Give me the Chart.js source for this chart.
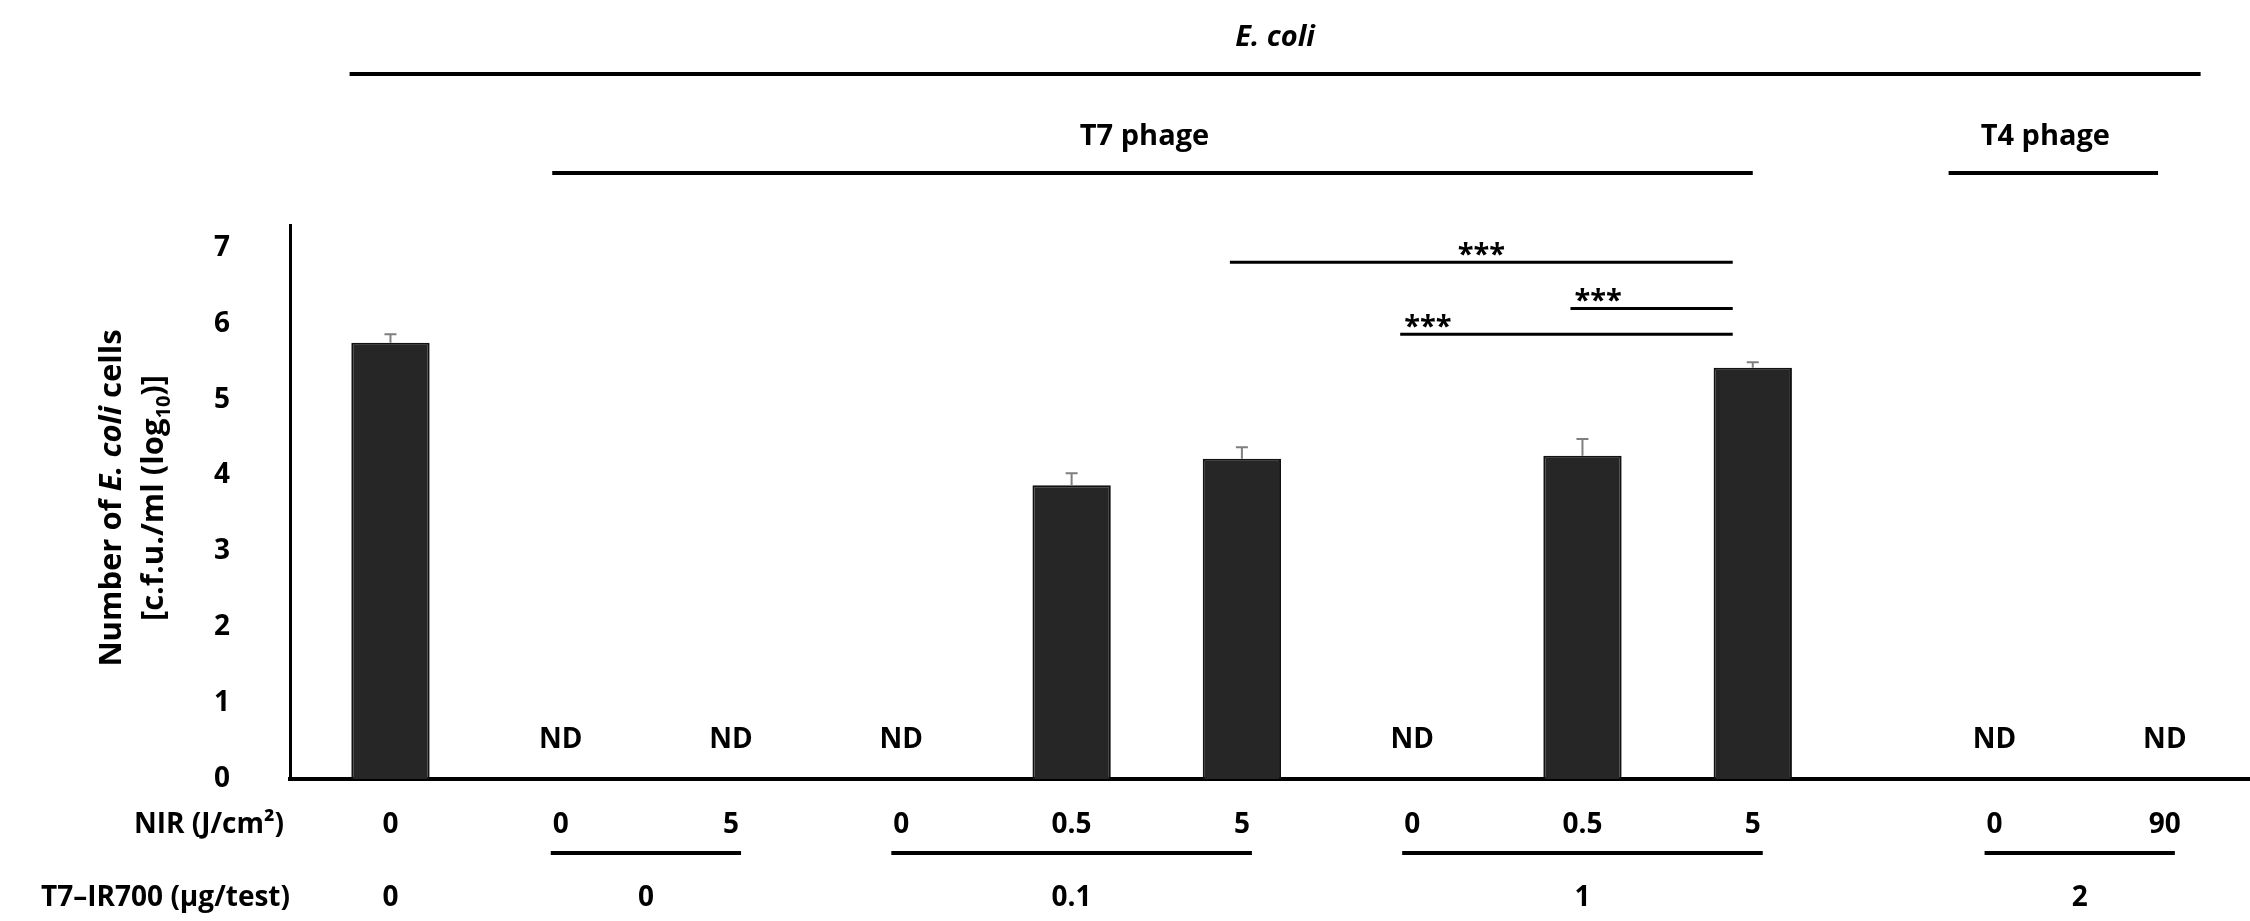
<!DOCTYPE html>
<html>
<head>
<meta charset="utf-8">
<title>E. coli counts after T7-IR700 / NIR treatment</title>
<script src="https://cdn.jsdelivr.net/npm/chart.js@4.4.0/dist/chart.umd.min.js"></script>
<style>
  body { margin: 0; background: #fff; }
  canvas { display: block; }
</style>
</head>
<body>
<canvas id="myChart" width="2250" height="921"></canvas>
<script>
// values (log10 c.f.u./ml), null = not detected
const nirLabels = ['0', '0', '5', '0', '0.5', '5', '0', '0.5', '5', '0', '90'];
const cellCounts = [5.75, null, null, null, 3.87, 4.22, null, 4.26, 5.42, null, null];
const errorBars = [0.11, 0, 0, 0, 0.16, 0.15, 0, 0.22, 0.07, 0, 0];
const yTicks = [0, 1, 2, 3, 4, 5, 6, 7];

// T7-IR700 dose row, each dose covers a run of categories
const doseGroups = [
  { label: '0', first: 0, last: 0 },
  { label: '0', first: 1, last: 2 },
  { label: '0.1', first: 3, last: 5 },
  { label: '1', first: 6, last: 8 },
  { label: '2', first: 9, last: 10 }
];

// headers over the plot, spans given in category units
const headers = [
  { text: 'E. coli', italic: true, from: -0.24, to: 10.63, row: 0 },
  { text: 'T7 phage', from: 0.95, to: 8.0, row: 1 },
  { text: 'T4 phage', from: 9.15, to: 10.38, row: 1 }
];

// *** brackets: compared categories and the y level they sit at
const sigPairs = [
  { from: 5, to: 8, level: 6.81, align: 'center' },
  { from: 7, to: 8, level: 6.2, align: 'left' },
  { from: 6, to: 8, level: 5.86, align: 'left' }
];

const family = '"Open Sans", "DejaVu Sans", sans-serif';
const t4Shift = 0.42; // T4 columns sit a little apart from the T7 ones

function font(size, style) {
  return (style || 'bold') + ' ' + size + 'px ' + family;
}

// draws text made of styled parts, centred on cx, baseline at by
function drawRich(ctx, parts, cx, by, size) {
  let total = 0;
  parts.forEach(p => {
    ctx.font = font(p.sub ? Math.round(size * 0.65) : size, p.style);
    total += ctx.measureText(p.t).width;
  });
  let px = cx - total / 2;
  ctx.textAlign = 'left';
  parts.forEach(p => {
    ctx.font = font(p.sub ? Math.round(size * 0.65) : size, p.style);
    ctx.fillText(p.t, px, by + (p.sub ? size * 0.22 : 0));
    px += ctx.measureText(p.t).width;
  });
}

function hline(ctx, x1, x2, y, w) {
  ctx.lineWidth = w;
  ctx.beginPath();
  ctx.moveTo(x1, y);
  ctx.lineTo(x2, y);
  ctx.stroke();
}

const figureExtras = {
  id: 'figureExtras',
  afterDatasetsDraw(chart) {
    const ctx = chart.ctx;
    const xs = chart.scales.x;
    const ys = chart.scales.y;
    const catX = i => xs.getPixelForValue(i + (i >= 9 ? t4Shift : 0));
    const zero = ys.getPixelForValue(0);
    const area = chart.chartArea;

    ctx.save();

    // error bars, upper half only
    ctx.strokeStyle = '#7f7f7f';
    ctx.lineWidth = 2;
    cellCounts.forEach((v, i) => {
      if (v === null || !errorBars[i]) return;
      const cx = xs.getPixelForValue(i);
      const top = ys.getPixelForValue(v + errorBars[i]);
      ctx.beginPath();
      ctx.moveTo(cx, ys.getPixelForValue(v));
      ctx.lineTo(cx, top);
      ctx.moveTo(cx - 6, top);
      ctx.lineTo(cx + 6, top);
      ctx.stroke();
    });

    ctx.fillStyle = '#000';
    ctx.strokeStyle = '#000';
    ctx.textBaseline = 'alphabetic';

    // ND marks
    ctx.font = font(28);
    ctx.textAlign = 'center';
    cellCounts.forEach((v, i) => {
      if (v === null) ctx.fillText('ND', catX(i), zero - 31);
    });

    // significance brackets
    sigPairs.forEach(s => {
      const y = ys.getPixelForValue(s.level);
      const x1 = catX(s.from) - 12;
      const x2 = catX(s.to) - 20;
      hline(ctx, x1, x2, y, 3);
      ctx.font = font(29);
      ctx.textAlign = s.align;
      ctx.fillText('***', s.align === 'center' ? (x1 + x2) / 2 : x1 + 4, y + 2);
    });

    // headers
    headers.forEach(h => {
      const x1 = xs.getPixelForValue(h.from);
      const x2 = xs.getPixelForValue(h.to);
      const lineY = h.row === 0 ? 74 : 173;
      hline(ctx, x1, x2, lineY, 4);
      ctx.font = font(29, h.italic ? 'italic bold' : 'bold');
      ctx.textAlign = 'center';
      ctx.fillText(h.text, (x1 + x2) / 2 - (h.row === 1 ? 8 : 0), lineY - 28);
    });

    // NIR row
    const nirY = area.bottom + 54;
    ctx.font = font(28);
    ctx.textAlign = 'right';
    ctx.fillText('NIR (J/cm\u00B2)', area.left - 6, nirY);
    ctx.textAlign = 'center';
    nirLabels.forEach((l, i) => ctx.fillText(l, catX(i), nirY));

    // dose row with group underlines
    const doseY = area.bottom + 127;
    ctx.textAlign = 'right';
    ctx.fillText('T7\u2013IR700 (\u00B5g/test)', area.left, doseY);
    ctx.textAlign = 'center';
    doseGroups.forEach(g => {
      const a = catX(g.first);
      const b = catX(g.last);
      if (g.last > g.first) hline(ctx, a - 10, b + 10, area.bottom + 74, 4);
      ctx.fillText(g.label, (a + b) / 2, doseY);
    });

    // y axis title, two rotated lines
    const titleSize = 31;
    const titleLines = [
      [{ t: 'Number of ' }, { t: 'E. coli', style: 'italic bold' }, { t: ' cells' }],
      [{ t: '[c.f.u./ml (log' }, { t: '10', sub: true }, { t: ')]' }]
    ];
    [110, 152].forEach((lx, k) => {
      ctx.save();
      ctx.translate(lx, (area.top + area.bottom) / 2 - 4);
      ctx.rotate(-Math.PI / 2);
      drawRich(ctx, titleLines[k], 0, titleSize * 0.36, titleSize);
      ctx.restore();
    });

    ctx.restore();
  }
};

new Chart(document.getElementById('myChart'), {
  type: 'bar',
  data: {
    datasets: [{
      data: cellCounts.map((v, i) => ({ x: i, y: v })),
      backgroundColor: '#262626',
      borderColor: '#111111',
      borderWidth: 2,
      barPercentage: 0.46,
      categoryPercentage: 1
    }]
  },
  options: {
    responsive: false,
    animation: false,
    devicePixelRatio: 1,
    layout: { padding: { top: 225, left: 0, right: 0, bottom: 0 } },
    plugins: {
      legend: { display: false },
      tooltip: { enabled: false }
    },
    scales: {
      x: {
        type: 'linear',
        offset: false,
        min: -0.59,
        max: 10.92,
        grid: { display: false, drawTicks: false },
        border: { color: '#000', width: 4 },
        ticks: { display: false },
        afterBuildTicks: s => { s.ticks = nirLabels.map((l, i) => ({ value: i })); },
        afterFit: s => { s.height = 142; }
      },
      y: {
        min: 0,
        max: 7.3,
        grid: { display: false, drawTicks: false },
        border: { color: '#000', width: 3 },
        ticks: {
          padding: 60,
          color: '#000',
          font: { family: family, size: 28, weight: 'bold' }
        },
        afterBuildTicks: s => { s.ticks = yTicks.map(v => ({ value: v })); },
        afterFit: s => { s.width = 290; }
      }
    }
  },
  plugins: [figureExtras]
});
</script>
</body>
</html>
